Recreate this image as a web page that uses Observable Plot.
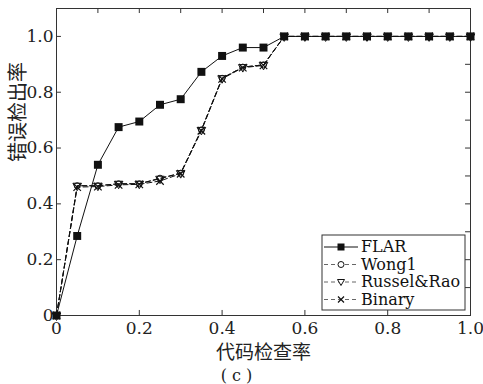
<!DOCTYPE html>
<html>
<head>
<meta charset="utf-8">
<script src="https://cdn.jsdelivr.net/npm/d3@7"></script>
<script src="https://cdn.jsdelivr.net/npm/@observablehq/plot@0.6"></script>
<style>
  html, body { margin: 0; padding: 0; background: #fff; }
  svg { display: block; }
</style>
</head>
<body>
<div id="chart"></div>
<script>
// ---- data ----
const xs = [0, 0.05, 0.1, 0.15, 0.2, 0.25, 0.3, 0.35, 0.4, 0.45, 0.5, 0.55, 0.6, 0.65, 0.7, 0.75, 0.8, 0.85, 0.9, 0.95, 1.0];
const flar   = [0, 0.285, 0.54, 0.675, 0.695, 0.755, 0.775, 0.873, 0.93, 0.96, 0.96, 1, 1, 1, 1, 1, 1, 1, 1, 1, 1];
const wong1  = [0, 0.465, 0.465, 0.472, 0.472, 0.492, 0.51, 0.665, 0.85, 0.89, 0.898, 1, 1, 1, 1, 1, 1, 1, 1, 1, 1];
const russel = [0, 0.465, 0.465, 0.472, 0.472, 0.49, 0.51, 0.665, 0.85, 0.89, 0.898, 1, 1, 1, 1, 1, 1, 1, 1, 1, 1];
const binary = [0, 0.46, 0.462, 0.468, 0.47, 0.482, 0.508, 0.662, 0.848, 0.888, 0.896, 1, 1, 1, 1, 1, 1, 1, 1, 1, 1];
const seriesNames = ["FLAR", "Wong1", "Russel&Rao", "Binary"];
const xTicks = [0, 0.2, 0.4, 0.6, 0.8, 1.0];
const yTicks = [0, 0.2, 0.4, 0.6, 0.8, 1.0];
const minorTicks = [0.1, 0.2, 0.3, 0.4, 0.5, 0.6, 0.7, 0.8, 0.9, 1.0];
const xTitle = "代码检查率";
const yTitle = "错误检出率";
const caption = "( c )";

const toRows = (vals) => xs.map((x, i) => ({x, y: vals[i]}));
const dFlar = toRows(flar), dWong = toRows(wong1), dRus = toRows(russel), dBin = toRows(binary);
const fmt = d => d === 0 ? "0" : d.toFixed(1);

const serif = "'DejaVu Serif', 'Liberation Serif', serif";
const cjk = "'Noto Sans CJK SC', sans-serif";

const chart = Plot.plot({
  width: 483,
  height: 384,
  marginLeft: 56,
  marginRight: 13,
  marginTop: 8,
  marginBottom: 69,
  style: {background: "#fff", color: "#111", overflow: "visible"},
  x: {domain: [0, 1]},
  y: {domain: [0, 1.1]},
  marks: [
    Plot.frame({stroke: "#333", strokeWidth: 1}),
    // inward ticks
    Plot.ruleX(xTicks, {x: d => d, y1: 0, y2: 0.018, stroke: "#333"}),
    Plot.ruleX(minorTicks, {x: d => d, y1: 1.1 - 0.018, y2: 1.1, stroke: "#333"}),
    Plot.ruleY(yTicks, {y: d => d, x1: 0, x2: 0.012, stroke: "#333"}),
    Plot.ruleY(minorTicks, {y: d => d, x1: 1 - 0.012, x2: 1, stroke: "#333"}),
    Plot.axisX({ticks: xTicks, tickFormat: fmt, tickSize: 0, tickPadding: 6, fontSize: 17, fontFamily: serif, label: null, fill: "#222"}),
    Plot.axisY({ticks: yTicks, tickFormat: fmt, tickSize: 0, tickPadding: 3, fontSize: 17, fontFamily: serif, label: null, fill: "#222"}),
    // dashed series
    Plot.line(dBin, {x: "x", y: "y", stroke: "#111", strokeWidth: 1, strokeDasharray: "5,3"}),
    Plot.line(dRus, {x: "x", y: "y", stroke: "#111", strokeWidth: 1, strokeDasharray: "5,3"}),
    Plot.line(dWong, {x: "x", y: "y", stroke: "#111", strokeWidth: 1, strokeDasharray: "5,3"}),
    Plot.dot(dWong, {x: "x", y: "y", symbol: "circle", r: 3, stroke: "#111", strokeWidth: 1, fill: "none"}),
    Plot.dot(dRus, {x: "x", y: "y", symbol: "triangle", r: 3.2, rotate: 180, stroke: "#111", strokeWidth: 1, fill: "none"}),
    Plot.dot(dBin, {x: "x", y: "y", symbol: "times", r: 3.5, stroke: "#111", strokeWidth: 1.2}),
    // FLAR
    Plot.line(dFlar, {x: "x", y: "y", stroke: "#111", strokeWidth: 1}),
    Plot.dot(dFlar, {x: "x", y: "y", symbol: "square", r: 4.5, fill: "#111", stroke: "none"}),
    // titles
    Plot.text([xTitle], {text: d => d, frameAnchor: "bottom", lineAnchor: "middle", dy: 37, fontSize: 19, fontFamily: cjk, fill: "#222"}),
    Plot.text([caption], {text: d => d, frameAnchor: "bottom", lineAnchor: "middle", dy: 60, dx: -27, fontSize: 16, fontFamily: serif, fill: "#222"}),
    Plot.text([yTitle], {text: d => d, frameAnchor: "left", lineAnchor: "middle", dx: -38, rotate: -90, fontSize: 20, fontFamily: cjk, fill: "#222"})
  ]
});
document.getElementById("chart").appendChild(chart);

// ---- legend ----
const svg = d3.select(chart);
const lg = svg.append("g").attr("text-anchor", "start");
const bx = 322, by = 235, bw = 143, bh = 75;
lg.append("rect").attr("x", bx).attr("y", by).attr("width", bw).attr("height", bh)
  .attr("fill", "#fff").attr("stroke", "#333").attr("stroke-width", 1);
const rowY = i => by + 12 + i * 17.5;
seriesNames.forEach((name, i) => {
  const y = rowY(i);
  lg.append("line").attr("x1", bx + 2).attr("x2", bx + 36).attr("y1", y).attr("y2", y)
    .attr("stroke", i === 0 ? "#111" : "#666").attr("stroke-width", 1)
    .attr("stroke-dasharray", i === 0 ? null : "4,3");
  const mx = bx + 19;
  if (i === 0) {
    lg.append("rect").attr("x", mx - 3.5).attr("y", y - 3.5).attr("width", 7).attr("height", 7).attr("fill", "#111");
  } else if (i === 1) {
    lg.append("circle").attr("cx", mx).attr("cy", y).attr("r", 3).attr("fill", "#fff").attr("stroke", "#111");
  } else if (i === 2) {
    lg.append("path").attr("d", `M${mx - 3.5},${y - 2.5}L${mx + 3.5},${y - 2.5}L${mx},${y + 3.5}Z`).attr("fill", "#fff").attr("stroke", "#111");
  } else {
    lg.append("path").attr("d", `M${mx - 3},${y - 3}L${mx + 3},${y + 3}M${mx - 3},${y + 3}L${mx + 3},${y - 3}`).attr("stroke", "#111").attr("stroke-width", 1.2);
  }
  lg.append("text").attr("x", bx + 39).attr("y", y).attr("dy", "0.34em")
    .style("font-family", serif).style("font-size", "16px").attr("fill", "#111").text(name);
});
</script>
</body>
</html>
